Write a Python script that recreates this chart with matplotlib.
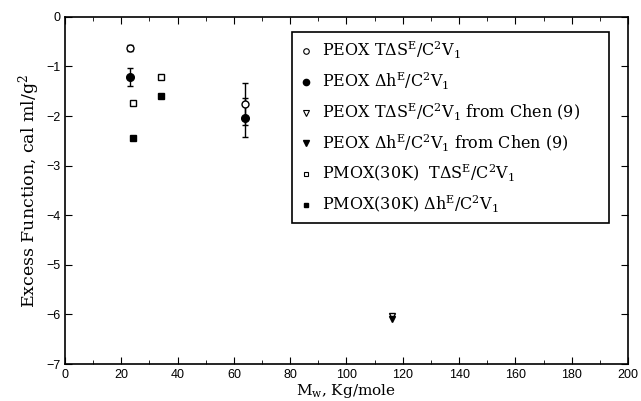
import matplotlib.pyplot as plt
from matplotlib.ticker import MultipleLocator
from matplotlib.lines import Line2D

# Data
peox_mw = [23.0, 64.0]
peox_tds = [-0.62, -1.76]
peox_tds_err = [0.06, 0.42]
peox_dh = [-1.22, -2.03]
peox_dh_err = [0.18, 0.40]

chen_mw = [116.0]
chen_tds = [-6.03]
chen_dh = [-6.10]

pmox_mw = [24.0, 34.0]
pmox_tds = [-1.73, -1.22]
pmox_dh = [-2.45, -1.60]

labels = [
    r'PEOX T$\Delta$S$^{\mathrm{E}}$/C$^{2}$V$_{1}$',
    r'PEOX $\Delta$h$^{\mathrm{E}}$/C$^{2}$V$_{1}$',
    r'PEOX T$\Delta$S$^{\mathrm{E}}$/C$^{2}$V$_{1}$ from Chen (9)',
    r'PEOX $\Delta$h$^{\mathrm{E}}$/C$^{2}$V$_{1}$ from Chen (9)',
    r'PMOX(30K)  T$\Delta$S$^{\mathrm{E}}$/C$^{2}$V$_{1}$',
    r'PMOX(30K) $\Delta$h$^{\mathrm{E}}$/C$^{2}$V$_{1}$',
]

serif = 'DejaVu Serif'
plt.rcParams['font.family'] = 'Liberation Sans'
plt.rcParams['mathtext.fontset'] = 'custom'
plt.rcParams['mathtext.rm'] = serif
plt.rcParams['mathtext.it'] = serif + ':italic'

fig = plt.figure(figsize=(6.41, 4.01), dpi=100)
ax = fig.add_axes([0.1014, 0.092, 0.8783, 0.866])

ax.errorbar(peox_mw, peox_tds, yerr=peox_tds_err, fmt='o', mfc='white', mec='black',
            ecolor='black', ms=5, capsize=2.5, elinewidth=1, mew=1)
ax.errorbar(peox_mw, peox_dh, yerr=peox_dh_err, fmt='o', color='black',
            ms=5.5, capsize=2.5, elinewidth=1)
ax.plot(chen_mw, chen_tds, 'v', mfc='white', mec='black', ms=5, mew=1, linestyle='none')
ax.plot(chen_mw, chen_dh, 'v', color='black', ms=5, linestyle='none')
ax.plot(pmox_mw, pmox_tds, 's', mfc='white', mec='black', ms=4.5, mew=1, linestyle='none')
ax.plot(pmox_mw, pmox_dh, 's', color='black', ms=4.5, linestyle='none')

ax.set_xlim(0, 200)
ax.set_ylim(-7, 0)
ax.xaxis.set_major_locator(MultipleLocator(20))
ax.xaxis.set_minor_locator(MultipleLocator(10))
ax.yaxis.set_major_locator(MultipleLocator(1))
ax.tick_params(which='both', direction='in', top=True, right=True, labelsize=9)
ax.tick_params(which='major', length=5)
ax.tick_params(which='minor', length=3)
for s in ax.spines.values():
    s.set_linewidth(1.2)

ax.set_xlabel(r'M$_{\mathrm{w}}$, Kg/mole', fontsize=11, family=serif, labelpad=1)
ax.set_ylabel(r'Excess Function, cal ml/g$^{2}$', fontsize=12.5, family=serif, labelpad=3)

handles = [
    Line2D([], [], marker='o', ls='none', mfc='white', mec='black', ms=4, mew=0.8),
    Line2D([], [], marker='o', ls='none', color='black', ms=4.5),
    Line2D([], [], marker='v', ls='none', mfc='white', mec='black', ms=4, mew=0.8),
    Line2D([], [], marker='v', ls='none', color='black', ms=4),
    Line2D([], [], marker='s', ls='none', mfc='white', mec='black', ms=3.5, mew=0.8),
    Line2D([], [], marker='s', ls='none', color='black', ms=3.5),
]
leg = ax.legend(handles, labels, loc='center', bbox_to_anchor=(0.403, 0.412, 0.563, 0.539),
                mode='expand', borderaxespad=0, fancybox=False, edgecolor='black',
                framealpha=1, prop={'family': serif, 'size': 11.5}, labelspacing=0.6,
                handlelength=0.8, handletextpad=0.6, borderpad=0.5, numpoints=1)
leg.get_frame().set_linewidth(1.2)

fig.savefig('out.png', dpi=100)
